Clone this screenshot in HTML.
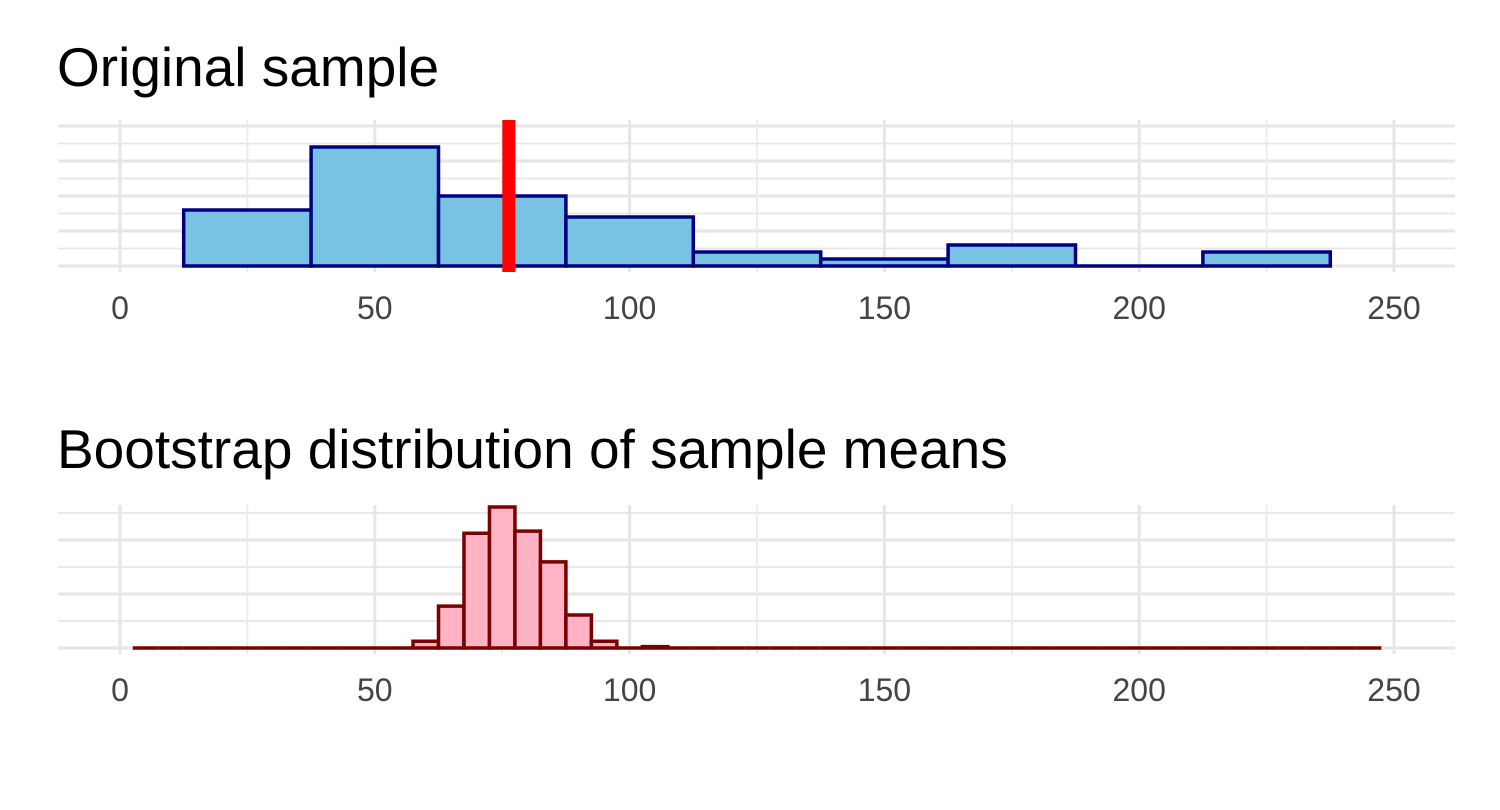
<!DOCTYPE html>
<html><head><meta charset="utf-8"><style>
html,body{margin:0;padding:0;background:#fff;}
svg{display:block;font-family:"Liberation Sans",Arial,sans-serif;}
</style></head><body>
<svg id="chart" width="1500" height="810" viewBox="0 0 1500 810" xmlns="http://www.w3.org/2000/svg">
<text x="57" y="86" font-size="55" fill="#000">Original sample</text>
<text x="57" y="468" font-size="55" fill="#000">Bootstrap distribution of sample means</text>
<g id="top"></g>
<g id="bottom"></g>
</svg>
<script>
const xTicks = [0, 50, 100, 150, 200, 250];
const xMinor = [25, 75, 125, 175, 225];
const topBinCenters = [25, 50, 75, 100, 125, 150, 175, 200, 225];
const topCounts = [8, 17, 10, 7, 2, 1, 3, 0, 2];
const topBinWidth = 25;
const sampleMean = 76.3;
const botBinCenters = [];
for (let c = 5; c <= 245; c += 5) botBinCenters.push(c);
const botNonZeroCenters = [60, 65, 70, 75, 80, 85, 90, 95, 100, 105];
const botNonZeroCounts = [25, 155, 425, 522, 433, 319, 122, 25, 0, 5];
const botBinWidth = 5;

const NS = "http://www.w3.org/2000/svg";
function mk(parent, tag, attrs) {
  const el = document.createElementNS(NS, tag);
  for (const k in attrs) el.setAttribute(k, attrs[k]);
  parent.appendChild(el);
  return el;
}
const xs = v => 120 + v * (1274 / 250);

function panel(g, base, top, yMajorStep, yScale, maxV) {
  for (let v = 0; v <= maxV; v += yMajorStep / 2) {
    const isMajor = Math.abs((v / yMajorStep) - Math.round(v / yMajorStep)) < 1e-9;
    const y = base - v * yScale;
    if (y < top - 2) break;
    const l = mk(g, "line", {x1: 58, x2: 1455, y1: y, y2: y, stroke: "#e6e6e6", "stroke-width": isMajor ? 3 : 1.8});
    
    
  }
  xMinor.forEach(v => {
    const l = mk(g, "line", {x1: xs(v), x2: xs(v), y1: top, y2: base + 6, stroke: "#ebebeb", "stroke-width": 1.8});
    
    
  });
  xTicks.forEach(v => {
    const l = mk(g, "line", {x1: xs(v), x2: xs(v), y1: top, y2: base + 6, stroke: "#e6e6e6", "stroke-width": 3});
    
    
    const t = mk(g, "text", {x: xs(v), y: base + 53, "font-size": 32, fill: "#444", "text-anchor": "middle"});
    t.textContent = String(v);
    
    
  });
}
function barPath(x0, x1, base, h) {
  return `M${x0},${base}L${x0},${base - h}L${x1},${base - h}L${x1},${base}Z`;
}

const gt = document.getElementById("top");
const topBase = 266, topScale = 7;
panel(gt, topBase, 120, 5, topScale, 21);
topBinCenters.forEach((c, i) => {
  const h = topCounts[i] * topScale;
  const r = mk(gt, "path", {d: barPath(xs(c - topBinWidth / 2), xs(c + topBinWidth / 2), topBase, h), fill: "#78c2e4", stroke: "#000080", "stroke-width": 3.5});
  
  
});
const ml = mk(gt, "line", {x1: xs(sampleMean), x2: xs(sampleMean), y1: 120, y2: 272, stroke: "#ff0000", "stroke-width": 13});



const gb = document.getElementById("bottom");
const botBase = 648, botScale = 0.27;
panel(gb, botBase, 505, 200, botScale, 540);
botBinCenters.forEach(c => {
  const idx = botNonZeroCenters.indexOf(c);
  const cnt = idx >= 0 ? botNonZeroCounts[idx] : 0;
  const h = cnt * botScale;
  const r = mk(gb, "path", {d: barPath(xs(c - botBinWidth / 2), xs(c + botBinWidth / 2), botBase, h), fill: "#ffb3c4", stroke: "#7a0000", "stroke-width": 3.5});
  
  
});
</script>
</body></html>
